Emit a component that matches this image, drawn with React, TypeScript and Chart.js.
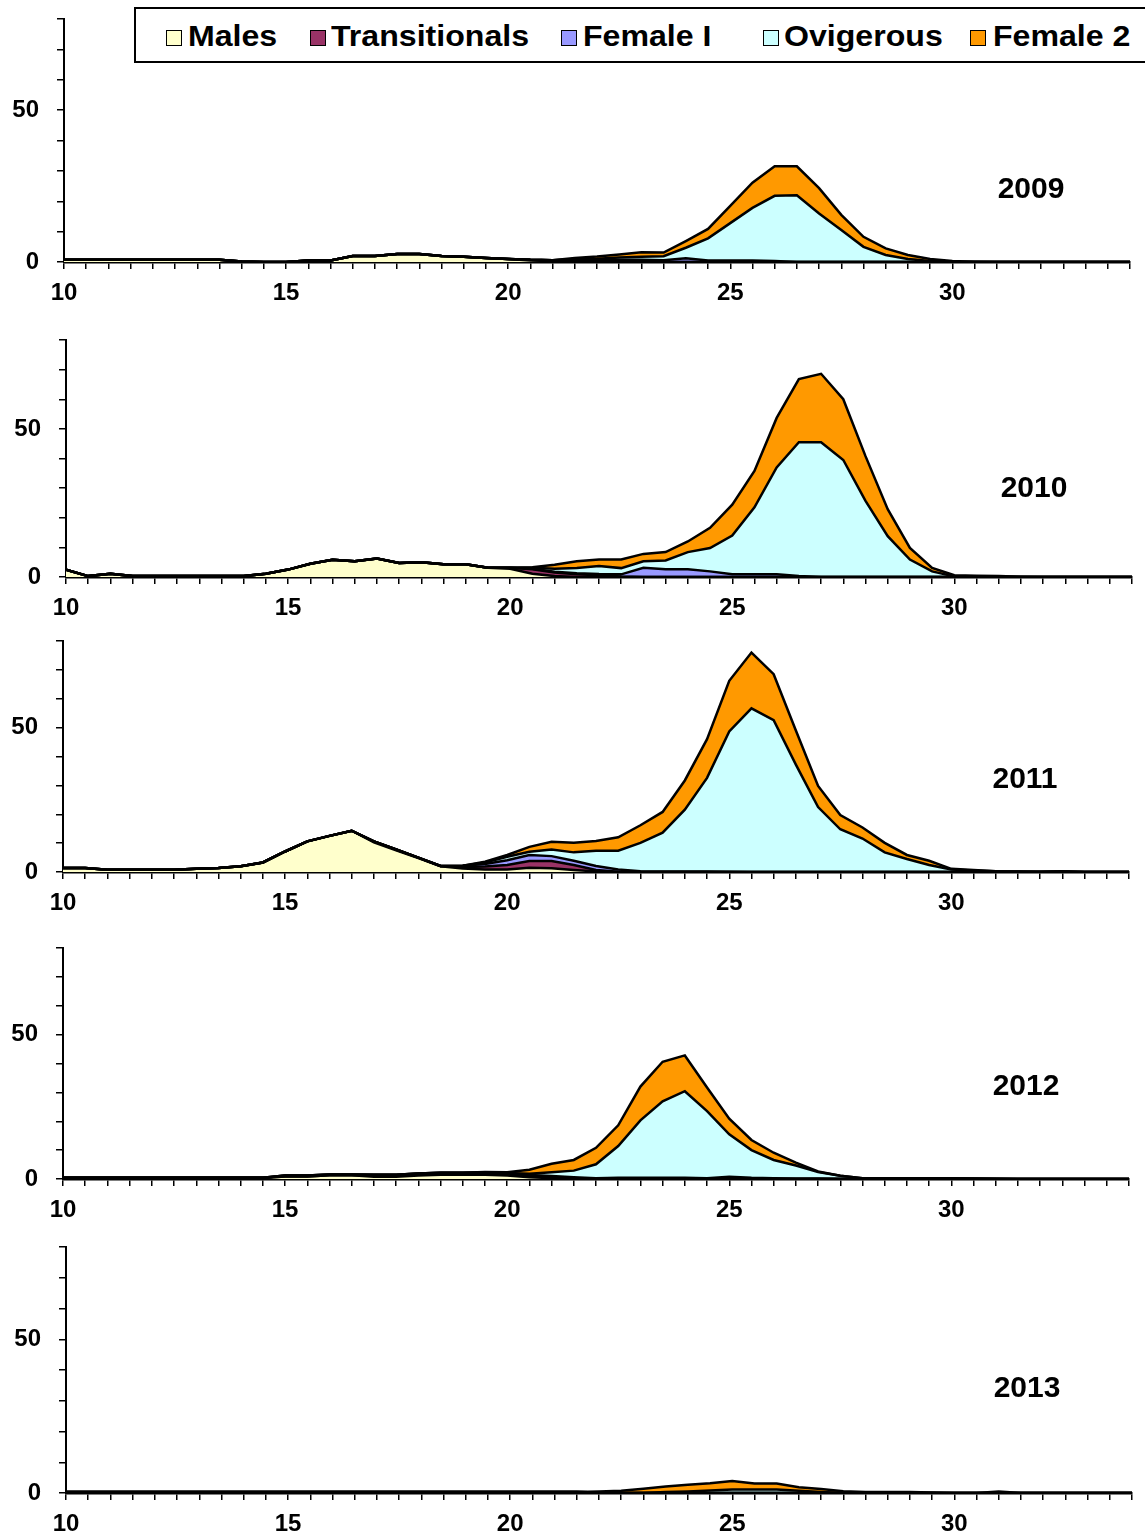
import React, { useEffect, useRef } from "react";
import { Chart, registerables } from "chart.js";

Chart.register(...registerables);

// ---------- DATA ----------
const X_VALUES = [
  10, 10.5, 11, 11.5, 12, 12.5, 13, 13.5, 14, 14.5,
  15, 15.5, 16, 16.5, 17, 17.5, 18, 18.5, 19, 19.5,
  20, 20.5, 21, 21.5, 22, 22.5, 23, 23.5, 24, 24.5,
  25, 25.5, 26, 26.5, 27, 27.5, 28, 28.5, 29, 29.5,
  30, 30.5, 31, 31.5, 32, 32.5, 33, 33.5, 34,
];

const SERIES_NAMES = ["Males", "Transitionals", "Female I", "Ovigerous", "Female 2"];
const SERIES_COLORS = ["#FFFFCC", "#993366", "#9999FF", "#CCFFFF", "#FF9900"];
const YEARS = ["2009", "2010", "2011", "2012", "2013"];
const X_TICK_LABELS = [10, 15, 20, 25, 30];
const Y_TICK_LABELS = [0, 50];

// 2009
const MALES_2009 = [
  0.7, 0.7, 0.7, 0.7, 0.7, 0.7, 0.7, 0.7, 0.2, 0,
  0, 0.5, 0.5, 2, 2, 2.6, 2.6, 2, 1.7, 1.3,
  1, 0.5, 0.3, 0.2, 0, 0, 0, 0, 0, 0,
  0, 0, 0, 0, 0, 0, 0, 0, 0, 0,
  0, 0, 0, 0, 0, 0, 0, 0, 0,
];
const TRANS_2009 = [
  0, 0, 0, 0, 0, 0, 0, 0, 0, 0,
  0, 0, 0, 0, 0, 0, 0, 0, 0, 0,
  0, 0.2, 0.3, 0.3, 0.3, 0.2, 0.1, 0, 0, 0,
  0, 0, 0, 0, 0, 0, 0, 0, 0, 0,
  0, 0, 0, 0, 0, 0, 0, 0, 0,
];
const FEMALE1_2009 = [
  0, 0, 0, 0, 0, 0, 0, 0, 0, 0,
  0, 0, 0, 0, 0, 0, 0, 0, 0, 0,
  0, 0, 0, 0.2, 0.4, 0.5, 0.6, 0.6, 1.2, 0.5,
  0.5, 0.5, 0.3, 0, 0, 0, 0, 0, 0, 0,
  0, 0, 0, 0, 0, 0, 0, 0, 0,
];
const OVIG_2009 = [
  0, 0, 0, 0, 0, 0, 0, 0, 0, 0,
  0, 0, 0, 0, 0, 0, 0, 0, 0, 0,
  0, 0, 0, 0.3, 0.4, 0.8, 1.0, 1.3, 3.5, 7.3,
  12.3, 17.3, 21.5, 22, 16, 10.5, 5, 2.3, 1, 0.3,
  0, 0, 0, 0, 0, 0, 0, 0, 0,
];
const FEMALE2_2009 = [
  0, 0, 0, 0, 0, 0, 0, 0, 0, 0,
  0, 0, 0, 0, 0, 0, 0, 0, 0, 0,
  0, 0, 0, 0.3, 0.7, 1.0, 1.5, 1.2, 2.2, 3.1,
  5.7, 8.3, 9.7, 9.5, 8.3, 5, 3.3, 2.2, 1.3, 0.7,
  0.3, 0.1, 0, 0, 0, 0, 0, 0, 0,
];

// 2010
const MALES_2010 = [
  2.5, 0.3, 1.1, 0.3, 0.3, 0.3, 0.3, 0.3, 0.3, 1.1,
  2.5, 4.5, 5.8, 5.3, 6.2, 4.7, 5.0, 4.3, 4.3, 3.1,
  2.8, 1.1, 0.3, 0, 0, 0, 0, 0, 0, 0,
  0, 0, 0, 0, 0, 0, 0, 0, 0, 0,
  0, 0, 0, 0, 0, 0, 0, 0, 0,
];
const TRANS_2010 = [
  0, 0, 0, 0, 0, 0, 0, 0, 0, 0,
  0, 0, 0, 0, 0, 0, 0, 0, 0, 0,
  0.3, 1.5, 1.2, 0.9, 0.6, 0.2, 0, 0, 0, 0,
  0, 0, 0, 0, 0, 0, 0, 0, 0, 0,
  0, 0, 0, 0, 0, 0, 0, 0, 0,
];
const FEMALE1_2010 = [
  0, 0, 0, 0, 0, 0, 0, 0, 0, 0,
  0, 0, 0, 0, 0, 0, 0, 0, 0, 0,
  0, 0.2, 0.3, 0.4, 0.4, 0.7, 3.1, 2.6, 2.6, 1.9,
  0.9, 0.9, 0.9, 0.3, 0, 0, 0, 0, 0, 0,
  0, 0, 0, 0, 0, 0, 0, 0, 0,
];
const OVIG_2010 = [
  0, 0, 0, 0, 0, 0, 0, 0, 0, 0,
  0, 0, 0, 0, 0, 0, 0, 0, 0, 0,
  0, 0.3, 1.0, 1.7, 2.7, 2.1, 2.2, 3.0, 5.8, 7.9,
  13.1, 22.6, 36.1, 45.2, 45.5, 39.5, 25.7, 13.8, 5.9, 1.9,
  0.2, 0.2, 0.1, 0, 0, 0, 0, 0, 0,
];
const FEMALE2_2010 = [
  0, 0, 0, 0, 0, 0, 0, 0, 0, 0,
  0, 0, 0, 0, 0, 0, 0, 0, 0, 0,
  0, 0.2, 1.3, 2.3, 2.2, 2.9, 2.5, 2.8, 3.6, 6.8,
  10.4, 12.3, 16.7, 21.3, 23.1, 20.5, 15.1, 9.1, 3.9, 1.2,
  0.4, 0.2, 0.2, 0.1, 0, 0, 0, 0, 0,
];

// 2011
const MALES_2011 = [
  1.4, 1.4, 0.8, 0.8, 0.8, 0.8, 1.1, 1.4, 2, 3.3,
  7.1, 10.6, 12.5, 14.3, 10.3, 7.5, 4.8, 2.0, 1.2, 0.9,
  0.9, 1.5, 1.3, 0.7, 0.2, 0, 0, 0, 0, 0,
  0, 0, 0, 0, 0, 0, 0, 0, 0, 0,
  0, 0, 0, 0, 0, 0, 0, 0, 0,
];
const TRANS_2011 = [
  0, 0, 0, 0, 0, 0, 0, 0, 0, 0,
  0, 0, 0, 0, 0.3, 0.3, 0.2, 0.1, 0.5, 1.0,
  1.5, 2.3, 2.5, 1.7, 0.5, 0.1, 0, 0, 0, 0,
  0, 0, 0, 0, 0, 0, 0, 0, 0, 0,
  0, 0, 0, 0, 0, 0, 0, 0, 0,
];
const FEMALE1_2011 = [
  0, 0, 0, 0, 0, 0, 0, 0, 0, 0,
  0, 0, 0, 0, 0, 0, 0, 0, 0.5, 0.9,
  1.7, 2.1, 1.7, 1.5, 1.4, 0.8, 0.3, 0.2, 0.2, 0.2,
  0.1, 0, 0, 0, 0, 0, 0, 0, 0, 0,
  0, 0, 0, 0, 0, 0, 0, 0, 0,
];
const OVIG_2011 = [
  0, 0, 0, 0, 0, 0, 0, 0, 0, 0,
  0, 0, 0, 0, 0, 0, 0, 0, 0, 0.5,
  1.2, 1.1, 2.3, 2.9, 5.3, 6.5, 9.8, 13.4, 21.4, 32.4,
  48.6, 56.7, 52.6, 37.2, 22.5, 14.8, 11.6, 6.8, 4.5, 2.4,
  0.9, 0.5, 0.3, 0.2, 0.1, 0.3, 0, 0, 0,
];
const FEMALE2_2011 = [
  0, 0, 0, 0, 0, 0, 0, 0, 0, 0,
  0, 0, 0, 0, 0, 0, 0, 0, 0, 0.3,
  0.6, 1.7, 2.7, 3.3, 3.3, 4.6, 6.1, 7.2, 10.1, 13.4,
  17.5, 19.3, 15.9, 11.8, 7.3, 4.9, 3.8, 3.3, 1.4, 1.5,
  0.2, 0.2, 0, 0, 0, 0, 0, 0, 0,
];

// 2012
const MALES_2012 = [
  0.4, 0.4, 0.4, 0.4, 0.4, 0.4, 0.4, 0.4, 0.4, 0.4,
  0.9, 0.9, 1.3, 1.3, 0.8, 0.8, 1.2, 1.5, 1.5, 1.5,
  1.2, 0.6, 0.3, 0.1, 0, 0, 0, 0, 0, 0,
  0, 0, 0, 0, 0, 0, 0, 0, 0, 0,
  0, 0, 0, 0, 0, 0, 0, 0, 0,
];
const TRANS_2012 = [
  0, 0, 0, 0, 0, 0, 0, 0, 0, 0,
  0, 0, 0, 0, 0.4, 0.4, 0.4, 0.4, 0.4, 0.4,
  0.4, 0.5, 0.4, 0.2, 0, 0, 0, 0, 0, 0,
  0, 0, 0, 0, 0, 0, 0, 0, 0, 0,
  0, 0, 0, 0, 0, 0, 0, 0, 0,
];
const FEMALE1_2012 = [
  0, 0, 0, 0, 0, 0, 0, 0, 0, 0,
  0.3, 0.3, 0.3, 0.3, 0.3, 0.3, 0.3, 0.3, 0.3, 0.3,
  0.3, 0.3, 0.3, 0.3, 0.3, 0.4, 0.4, 0.4, 0.4, 0.3,
  0.8, 0.4, 0.3, 0.2, 0.2, 0.1, 0, 0, 0, 0,
  0, 0, 0, 0, 0, 0, 0, 0, 0,
];
const OVIG_2012 = [
  0, 0, 0, 0, 0, 0, 0, 0, 0, 0,
  0, 0, 0, 0, 0, 0, 0, 0, 0, 0.1,
  0.2, 0.4, 1.3, 2.3, 4.8, 11.0, 19.9, 26.5, 30.0, 23.2,
  14.7, 9.6, 6.3, 4.5, 2.2, 1.0, 0.3, 0.3, 0.3, 0.3,
  0.3, 0.2, 0.1, 0, 0, 0, 0, 0, 0,
];
const FEMALE2_2012 = [
  0, 0, 0, 0, 0, 0, 0, 0, 0, 0,
  0, 0, 0, 0, 0, 0, 0, 0, 0, 0.1,
  0.2, 1.4, 3.0, 3.7, 5.7, 7.2, 11.7, 13.7, 12.4, 8.2,
  5.4, 3.5, 2.5, 1.0, 0.2, 0, 0, 0, 0, 0,
  0, 0, 0, 0, 0, 0, 0, 0, 0,
];

// 2013
const MALES_2013 = [
  0.3, 0.3, 0.3, 0.3, 0.3, 0.3, 0.3, 0.3, 0.3, 0.3,
  0.3, 0.3, 0.3, 0.3, 0.3, 0.3, 0.3, 0.3, 0.3, 0.3,
  0.3, 0.3, 0.3, 0.3, 0.2, 0, 0, 0, 0, 0,
  0, 0, 0, 0, 0, 0, 0, 0, 0, 0,
  0, 0, 0, 0, 0, 0, 0, 0, 0,
];
const TRANS_2013 = [
  0, 0, 0, 0, 0, 0, 0, 0, 0, 0,
  0, 0, 0, 0, 0, 0, 0, 0, 0, 0,
  0, 0, 0, 0, 0, 0, 0, 0, 0, 0,
  0, 0, 0, 0, 0, 0, 0, 0, 0, 0,
  0, 0, 0, 0, 0, 0, 0, 0, 0,
];
const FEMALE1_2013 = [
  0, 0, 0, 0, 0, 0, 0, 0, 0, 0,
  0, 0, 0, 0, 0, 0, 0, 0, 0, 0,
  0, 0, 0, 0, 0, 0, 0, 0, 0, 0,
  0, 0, 0, 0, 0, 0, 0, 0, 0, 0,
  0, 0, 0, 0, 0, 0, 0, 0, 0,
];
const OVIG_2013 = [
  0, 0, 0, 0, 0, 0, 0, 0, 0, 0,
  0, 0, 0, 0, 0, 0, 0, 0, 0, 0,
  0, 0, 0, 0, 0, 0, 0, 0.3, 0.5, 0.8,
  1.1, 1.1, 1.1, 0.7, 0.3, 0, 0, 0, 0, 0,
  0, 0, 0, 0, 0, 0, 0, 0, 0,
];
const FEMALE2_2013 = [
  0, 0, 0, 0, 0, 0, 0, 0, 0, 0,
  0, 0, 0, 0, 0, 0, 0, 0, 0, 0,
  0, 0, 0, 0, 0.3, 0.7, 1.4, 1.8, 2.2, 2.4,
  2.8, 2.0, 2.0, 1.2, 1.0, 0.6, 0.3, 0.3, 0.3, 0.2,
  0, 0, 0.5, 0, 0, 0, 0, 0, 0,
];

const YEAR_SERIES = [
  [MALES_2009, TRANS_2009, FEMALE1_2009, OVIG_2009, FEMALE2_2009],
  [MALES_2010, TRANS_2010, FEMALE1_2010, OVIG_2010, FEMALE2_2010],
  [MALES_2011, TRANS_2011, FEMALE1_2011, OVIG_2011, FEMALE2_2011],
  [MALES_2012, TRANS_2012, FEMALE1_2012, OVIG_2012, FEMALE2_2012],
  [MALES_2013, TRANS_2013, FEMALE1_2013, OVIG_2013, FEMALE2_2013],
];

// ---------- LAYOUT ----------
const PAGE_W = 1145;
const PAD_TOP = 10;
const X_AXIS_H = 50;
const PLOT_W = 1066;
const FONT = "'Liberation Sans', Arial, Helvetica, sans-serif";

const PANEL_LAYOUT = [
  { top: 19, bottom: 262, left: 64, labelCx: 1031, labelCapTop: 177 },
  { top: 340, bottom: 577, left: 66, labelCx: 1034, labelCapTop: 476 },
  { top: 641, bottom: 872, left: 63, labelCx: 1025, labelCapTop: 767 },
  { top: 948, bottom: 1179, left: 63, labelCx: 1026, labelCapTop: 1074 },
  { top: 1247, bottom: 1493, left: 66, labelCx: 1027, labelCapTop: 1376 },
];

const LEGEND_LAYOUT = [
  { sq: 166, tx: 188 },
  { sq: 310, tx: 331 },
  { sq: 561, tx: 583 },
  { sq: 763, tx: 784 },
  { sq: 970, tx: 993 },
];

function Panel({ idx }: { idx: number }) {
  const ref = useRef<HTMLCanvasElement | null>(null);
  const lay = PANEL_LAYOUT[idx];
  const plotH = lay.bottom - lay.top;
  const canvasH = PAD_TOP + plotH + X_AXIS_H;

  useEffect(() => {
    if (!ref.current) return;
    const series = YEAR_SERIES[idx];
    const chart = new Chart(ref.current, {
      type: "line",
      data: {
        datasets: series.map((vals, k) => ({
          label: SERIES_NAMES[k],
          data: X_VALUES.map((x, i) => ({ x, y: vals[i] })),
          backgroundColor: SERIES_COLORS[k],
          borderColor: "#000000",
          borderWidth: 2.5,
          pointRadius: 0,
          pointHoverRadius: 0,
          tension: 0,
          fill: k === 0 ? "origin" : "-1",
        })),
      },
      options: {
        animation: false,
        responsive: false,
        devicePixelRatio: 1,
        events: [],
        layout: {
          padding: {
            top: PAD_TOP,
            left: 0,
            bottom: 0,
            right: PAGE_W - (lay.left + PLOT_W),
          },
        },
        plugins: {
          legend: { display: false },
          tooltip: { enabled: false },
          filler: { drawTime: "beforeDatasetsDraw" },
        } as any,
        scales: {
          x: {
            type: "linear",
            min: 10,
            max: 34,
            afterFit: (s: any) => {
              s.height = X_AXIS_H;
              s.paddingLeft = 0;
              s.paddingRight = 0;
            },
            ticks: {
              stepSize: 0.5,
              autoSkip: false,
              maxRotation: 0,
              minRotation: 0,
              padding: 10,
              color: "#000000",
              font: { family: FONT, size: 24, weight: "bold" },
              callback: (v: any) => (X_TICK_LABELS.includes(Number(v)) ? String(v) : ""),
            },
            grid: {
              drawOnChartArea: false,
              drawTicks: true,
              tickLength: 7,
              color: "#000000",
              lineWidth: 1.5,
            },
            border: { display: true, color: "#000000", width: 2.5 },
          },
          y: {
            stacked: true,
            min: 0,
            max: 80,
            afterFit: (s: any) => {
              s.width = lay.left;
              s.paddingTop = 0;
              s.paddingBottom = 0;
            },
            ticks: {
              stepSize: 10,
              autoSkip: false,
              padding: 18,
              color: "#000000",
              font: { family: FONT, size: 24, weight: "bold" },
              callback: (v: any) => (Y_TICK_LABELS.includes(Number(v)) ? String(v) : ""),
            },
            grid: {
              drawOnChartArea: false,
              drawTicks: true,
              tickLength: 7,
              color: "#000000",
              lineWidth: 1.5,
            },
            border: { display: true, color: "#000000", width: 2 },
          },
        } as any,
      },
    });
    return () => chart.destroy();
  }, [idx]);

  return (
    <>
      <canvas
        ref={ref}
        width={PAGE_W}
        height={canvasH}
        style={{
          position: "absolute",
          left: 0,
          top: lay.top - PAD_TOP,
          width: PAGE_W,
          height: canvasH,
        }}
      />
      <div
        style={{
          position: "absolute",
          left: lay.labelCx - 60,
          width: 120,
          top: lay.labelCapTop - 4,
          textAlign: "center",
          font: `bold 30px/30px ${FONT}`,
          color: "#000",
          whiteSpace: "nowrap",
        }}
      >
        {YEARS[idx]}
      </div>
    </>
  );
}

function Legend() {
  return (
    <>
      <div
        style={{
          position: "absolute",
          left: 134,
          top: 7,
          width: PAGE_W - 134 + 20,
          height: 56,
          border: "2px solid #000",
          boxSizing: "border-box",
          background: "#fff",
        }}
      />
      {SERIES_NAMES.map((name, k) => (
        <React.Fragment key={name}>
          <div
            style={{
              position: "absolute",
              left: LEGEND_LAYOUT[k].sq,
              top: 30,
              width: 16,
              height: 16,
              boxSizing: "border-box",
              border: "1.5px solid #000",
              background: SERIES_COLORS[k],
            }}
          />
          <div
            style={{
              position: "absolute",
              left: LEGEND_LAYOUT[k].tx,
              top: 21,
              font: `bold 30px/30px ${FONT}`,
              color: "#000",
              whiteSpace: "nowrap",
              transform: "scaleX(1.07)",
              transformOrigin: "left center",
            }}
          >
            {name}
          </div>
        </React.Fragment>
      ))}
    </>
  );
}

export default function App() {
  return (
    <div
      style={{
        position: "absolute",
        left: 0,
        top: 0,
        width: PAGE_W,
        height: 1539,
        background: "#ffffff",
        overflow: "hidden",
      }}
    >
      {PANEL_LAYOUT.map((_, i) => (
        <Panel key={i} idx={i} />
      ))}
      <Legend />
    </div>
  );
}
